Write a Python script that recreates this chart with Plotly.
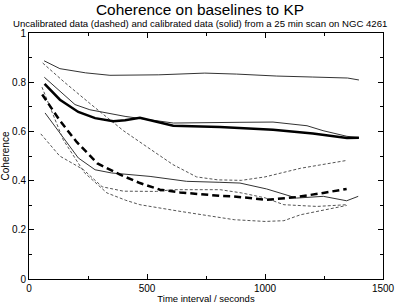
import plotly.graph_objects as go

# Calibrated (solid) series
t_cal_top = [64, 131, 240, 343, 550, 745, 880, 1050, 1200, 1350, 1398]
coh_cal_top = [0.887, 0.855, 0.838, 0.828, 0.830, 0.837, 0.833, 0.825, 0.821, 0.817, 0.809]

t_cal_mid = [65, 195, 258, 407, 612, 746, 894, 1034, 1178, 1246, 1347, 1398]
coh_cal_mid = [0.820, 0.709, 0.688, 0.661, 0.634, 0.634, 0.637, 0.638, 0.623, 0.603, 0.580, 0.575]

t_cal_avg = [66, 131, 209, 280, 357, 407, 470, 611, 809, 1034, 1203, 1347, 1398]
coh_cal_avg = [0.793, 0.729, 0.679, 0.654, 0.641, 0.645, 0.655, 0.623, 0.618, 0.607, 0.591, 0.573, 0.574]

t_cal_low = [68, 209, 280, 350, 513, 668, 809, 894, 1007, 1134, 1247, 1346, 1395]
coh_cal_low = [0.675, 0.492, 0.444, 0.431, 0.417, 0.397, 0.393, 0.390, 0.366, 0.329, 0.336, 0.318, 0.336]

# Uncalibrated (dashed) series
t_unc_a = [58, 150, 260, 400, 500, 610, 710, 800, 900, 1000, 1150, 1346]
coh_unc_a = [0.878, 0.800, 0.712, 0.603, 0.537, 0.465, 0.415, 0.403, 0.401, 0.415, 0.450, 0.482]

t_unc_b = [55, 145, 235, 330, 410, 470, 640, 810, 870, 1000, 1080, 1150, 1346]
coh_unc_b = [0.780, 0.566, 0.432, 0.350, 0.320, 0.302, 0.275, 0.250, 0.241, 0.234, 0.237, 0.261, 0.299]

t_unc_c = [50, 130, 230, 310, 400, 540, 610, 810, 900, 1000, 1080, 1220, 1346]
coh_unc_c = [0.590, 0.500, 0.445, 0.375, 0.357, 0.356, 0.363, 0.363, 0.350, 0.330, 0.302, 0.295, 0.302]

t_unc_avg = [56, 130, 202, 290, 386, 470, 555, 640, 809, 866, 1007, 1134, 1247, 1346]
coh_unc_avg = [0.750, 0.645, 0.557, 0.470, 0.424, 0.390, 0.363, 0.352, 0.338, 0.336, 0.322, 0.333, 0.350, 0.366]

x_ticks = [0, 500, 1000, 1500]
y_ticks = [0, 0.2, 0.4, 0.6, 0.8, 1]
y_tick_labels = ["0", "0.2", "0.4", "0.6", "0.8", "1"]

title_text = "Coherence on baselines to KP"
subtitle_text = "Uncalibrated data (dashed) and calibrated data (solid) from a 25 min scan on NGC 4261"

FONT = "Liberation Sans, Arial, Helvetica, sans-serif"

fig = go.Figure()

thin_solid = dict(color="#333333", width=1)
thin_dash = dict(color="#555555", width=1, dash="3px,2px")
thick_solid = dict(color="black", width=2.5)
thick_dash = dict(color="black", width=2.5, dash="7px,4px")

for t, c in [(t_cal_top, coh_cal_top), (t_cal_mid, coh_cal_mid), (t_cal_low, coh_cal_low)]:
    fig.add_trace(go.Scatter(x=t, y=c, mode="lines", line=thin_solid, showlegend=False, hoverinfo="skip"))
for t, c in [(t_unc_a, coh_unc_a), (t_unc_b, coh_unc_b), (t_unc_c, coh_unc_c)]:
    fig.add_trace(go.Scatter(x=t, y=c, mode="lines", line=thin_dash, showlegend=False, hoverinfo="skip"))
fig.add_trace(go.Scatter(x=t_cal_avg, y=coh_cal_avg, mode="lines", line=thick_solid, showlegend=False, hoverinfo="skip"))
fig.add_trace(go.Scatter(x=t_unc_avg, y=coh_unc_avg, mode="lines", line=thick_dash, showlegend=False, hoverinfo="skip"))

axis_common = dict(
    showgrid=False, zeroline=False, showline=True, linecolor="black", linewidth=1,
    mirror="allticks", ticks="inside", ticklen=5, tickcolor="black", tickwidth=1,
    tickfont=dict(family=FONT, size=10, color="black"), automargin=False,
)

fig.update_xaxes(
    range=[0, 1500], tickvals=x_ticks, ticktext=[str(v) for v in x_ticks],
    minor=dict(ticks="inside", dtick=250, tick0=0, ticklen=3, tickcolor="black"),
    title=dict(text="Time interval / seconds", font=dict(family=FONT, size=9.5, color="black"), standoff=0),
    **axis_common,
)
fig.update_yaxes(
    range=[0, 1], tickvals=y_ticks, ticktext=y_tick_labels,
    minor=dict(ticks="inside", dtick=0.1, tick0=0, ticklen=3, tickcolor="black"),
    title=dict(text="Coherence", font=dict(family=FONT, size=10, color="black"), standoff=2),
    **axis_common,
)

fig.update_layout(
    width=399, height=304,
    margin=dict(l=29, r=16, t=33, b=25),
    paper_bgcolor="white", plot_bgcolor="white",
    font=dict(family=FONT, color="black"),
    annotations=[
        dict(text=title_text, xref="paper", yref="paper", x=0.483, y=1.095,
             showarrow=False, font=dict(family=FONT, size=15.4, color="black"),
             xanchor="center", yanchor="middle"),
        dict(text=subtitle_text, xref="paper", yref="paper", x=0.483, y=1.038,
             showarrow=False, font=dict(family=FONT, size=9.6, color="black"),
             xanchor="center", yanchor="middle"),
    ],
)

# Remove the default 8px page margin so the figure sits at the window's top-left corner.
fig.write_html("out.html", config={"displayModeBar": False},
               post_script="document.body.style.margin='0';")
